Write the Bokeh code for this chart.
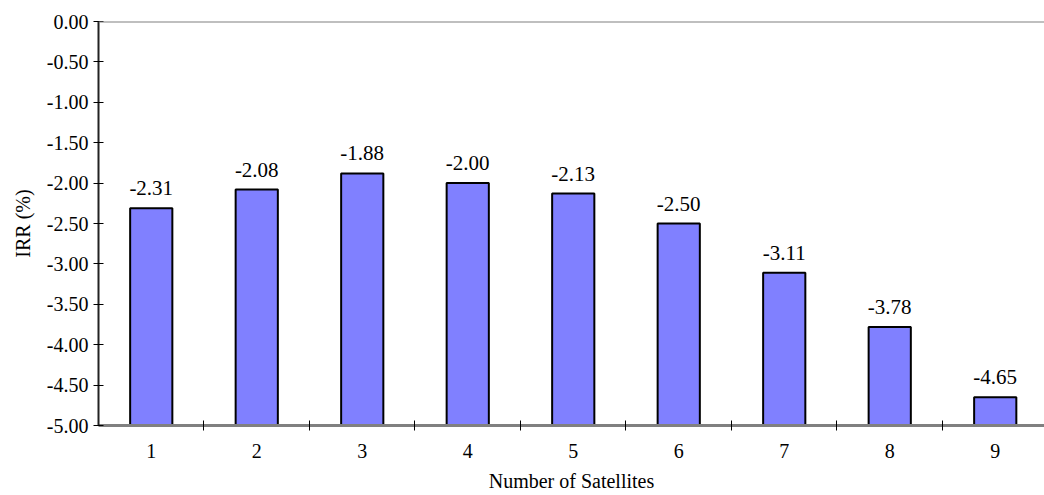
from bokeh.plotting import figure
from bokeh.models import FixedTicker, NumeralTickFormatter, Span, ColumnDataSource, Range1d
from bokeh.core.properties import value
from bokeh.embed import file_html
from bokeh.resources import INLINE

# IRR by constellation size
satellites = [1, 2, 3, 4, 5, 6, 7, 8, 9]
irr = [-2.31, -2.08, -1.88, -2.00, -2.13, -2.50, -3.11, -3.78, -4.65]
y_ticks = [0.0, -0.5, -1.0, -1.5, -2.0, -2.5, -3.0, -3.5, -4.0, -4.5, -5.0]
y_min, y_max = -5.0, 0.0

FONT = "'Liberation Serif', 'Times New Roman', serif"

src = ColumnDataSource(dict(
    x=satellites,
    top=irr,
    label=["%.2f" % v for v in irr],
))

p = figure(
    width=1044, height=495,
    output_backend="svg", toolbar_location=None,
    x_range=Range1d(0.5, 9.467), y_range=Range1d(y_min, y_max),
    min_border_left=98, min_border_right=0, min_border_top=21, min_border_bottom=70,
)
p.outline_line_color = None
p.grid.visible = False
p.background_fill_color = "white"
p.border_fill_color = "white"

# top edge of the plot area
p.add_layout(Span(location=y_max, dimension="width", line_color="#808080", line_width=2))

p.vbar(x="x", top="top", bottom=y_min, width=0.4, source=src,
       fill_color="#8080FF", line_color="black", line_width=2)

p.text(x="x", y="top", text="label", source=src,
       text_font=value(FONT), text_font_size="21px", text_color="black",
       text_align="center", text_baseline="alphabetic", y_offset=-20)

# y axis
ya = p.yaxis[0]
ya.ticker = FixedTicker(ticks=y_ticks, minor_ticks=[])
ya.formatter = NumeralTickFormatter(format="0.00")
ya.axis_line_color = "#222222"
ya.axis_line_width = 2
ya.major_tick_in = 5
ya.major_tick_out = 5
ya.major_tick_line_color = "black"
ya.minor_tick_line_color = None
ya.major_label_text_font = FONT
ya.major_label_text_font_size = "20px"
ya.major_label_text_color = "black"
ya.major_label_standoff = 5
ya.axis_label = "IRR (%)"
ya.axis_label_text_font = FONT
ya.axis_label_text_font_size = "20px"
ya.axis_label_text_font_style = "normal"
ya.axis_label_text_color = "black"
ya.axis_label_standoff = 10

# x axis: labels at category centres, ticks between categories
xa = p.xaxis[0]
xa.ticker = FixedTicker(ticks=satellites, minor_ticks=[s + 0.5 for s in satellites])
xa.axis_line_color = "#808080"
xa.axis_line_width = 3
xa.major_tick_in = 0
xa.major_tick_out = 0
xa.minor_tick_in = 5
xa.minor_tick_out = 5
xa.minor_tick_line_color = "black"
xa.major_label_text_font = FONT
xa.major_label_text_font_size = "20px"
xa.major_label_text_color = "black"
xa.major_label_standoff = 13
xa.axis_label = "Number of Satellites"
xa.axis_label_text_font = FONT
xa.axis_label_text_font_size = "20px"
xa.axis_label_text_font_style = "normal"
xa.axis_label_text_color = "black"
xa.axis_label_standoff = 9

open("out.html", "w").write(file_html(p, INLINE))
